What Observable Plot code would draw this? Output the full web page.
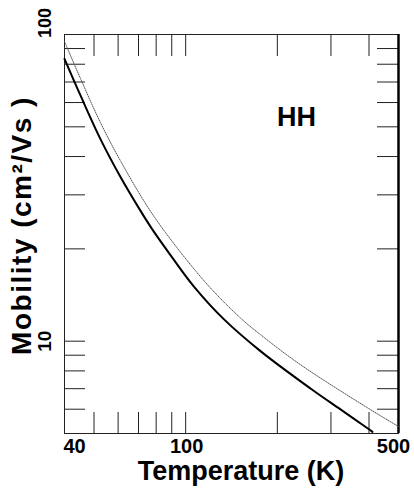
<!DOCTYPE html>
<html><head><meta charset="utf-8">
<script src="https://cdn.jsdelivr.net/npm/d3@7"></script>
<script src="https://cdn.jsdelivr.net/npm/@observablehq/plot@0.6"></script>
<style>body{margin:0;background:#fff;} svg{display:block}</style>
</head><body><div id="chart"></div>
<script>
// Solid curve (HH, model 1)
const tempSolid = [40, 45.1, 52.5, 61.1, 71.1, 77.6, 90.5, 106.3, 133.4, 176.1, 257, 322.4, 394.5, 410.7];
const mobSolid  = [83.3, 63.4, 45.6, 34.3, 26.6, 23.2, 18.7, 15.1, 11.8, 9.28, 7.01, 5.99, 5.21, 5.06];
// Dotted curve (HH, model 2)
const tempDotted = [40, 45.1, 52.5, 61.1, 76.7, 96.2, 120.7, 151.4, 176.1, 238.3, 404.6, 500];
const mobDotted  = [94.9, 72.0, 51.6, 38.7, 26.5, 19.5, 14.9, 11.9, 10.5, 8.38, 5.98, 5.27];

const xTicks = [50, 60, 70, 80, 90, 100, 200, 300, 400];
const yTicks = [6, 7, 8, 9, 10, 20, 30, 40, 50, 60, 70, 80, 90];
const xTickLabels = [40, 100, 500];
const yTickLabels = [10, 100];
const xTitle = "Temperature (K)";
const yTitle = "Mobility (cm²/Vs )";
const seriesLabel = "HH";

const solid = tempSolid.map((T, i) => ({T, mu: mobSolid[i]}));
const dotted = tempDotted.map((T, i) => ({T, mu: mobDotted[i]}));

const font = "'Liberation Sans', Arial, Helvetica, sans-serif";
const lab = {fontSize: 20, fontWeight: "bold", fill: "#000", lineAnchor: "middle", text: d => String(d)};
const big = {fontSize: 27, fontWeight: "bold", fill: "#000", lineAnchor: "middle", text: d => d};

const plot = Plot.plot({
  width: 414, height: 489,
  marginLeft: 64, marginRight: 16, marginTop: 34, marginBottom: 56,
  x: {type: "log", domain: [40, 500], axis: null},
  y: {type: "log", domain: [5, 100], axis: null},
  style: {fontFamily: font, background: "#fff"},
  marks: [
    Plot.ruleX(xTicks, {insetTop: 378, stroke: "#222", strokeWidth: 1}),
    Plot.ruleX(xTicks, {insetBottom: 377, stroke: "#222", strokeWidth: 1}),
    Plot.ruleY(yTicks, {insetRight: 313, stroke: "#222", strokeWidth: 1}),
    Plot.ruleY(yTicks, {insetLeft: 313, stroke: "#222", strokeWidth: 1}),
    Plot.frame({stroke: "#222", strokeWidth: 1}),
    Plot.ruleX([500], {stroke: "#000", strokeWidth: 2.5}),
    Plot.line(dotted, {x: "T", y: "mu", stroke: "#555", strokeWidth: 1, strokeDasharray: "1,1.2", curve: "catmull-rom"}),
    Plot.line(solid, {x: "T", y: "mu", stroke: "#000", strokeWidth: 2, curve: "catmull-rom"}),
    Plot.text(xTickLabels.filter(d => d === 40), {...lab, x: d => d, frameAnchor: "bottom", dy: 13, textAnchor: "start", dx: -1}),
    Plot.text(xTickLabels.filter(d => d === 100), {...lab, x: d => d, frameAnchor: "bottom", dy: 13, textAnchor: "middle", dx: 1}),
    Plot.text(xTickLabels.filter(d => d === 500), {...lab, x: d => d, frameAnchor: "bottom", dy: 13, textAnchor: "middle", dx: -5}),
    Plot.text(yTickLabels.filter(d => d === 10), {...lab, fontSize: 19, y: d => d, frameAnchor: "left", dx: -20, rotate: -90, textAnchor: "middle"}),
    Plot.text(yTickLabels.filter(d => d === 100), {...lab, fontSize: 18, y: d => d, frameAnchor: "left", dx: -19, dy: -11.5, rotate: -90, textAnchor: "middle"}),
    Plot.text([xTitle], {...big, frameAnchor: "bottom", dx: 9.5, dy: 38, textAnchor: "middle"}),
    Plot.text([yTitle], {...big, fontSize: 28, frameAnchor: "left", dx: -42, dy: -8.5, rotate: -90, textAnchor: "middle"}),
    Plot.text([seriesLabel], {...big, frameAnchor: "top-right", dx: -102, dy: 83, textAnchor: "middle"})
  ]
});
// widen the rotated y title slightly to match the reference's letter spacing
d3.select(plot).selectAll("text").filter(function() { return this.textContent === yTitle; })
  .style("letter-spacing", "1.5px");
document.getElementById("chart").append(plot);
</script>
</body></html>
